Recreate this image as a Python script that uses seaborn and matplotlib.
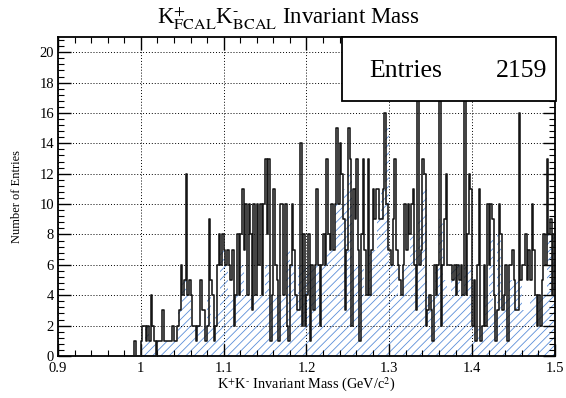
import matplotlib
matplotlib.use("Agg")
import matplotlib.pyplot as plt
from matplotlib.ticker import MultipleLocator, FuncFormatter
import numpy as np
import pandas as pd
import seaborn as sns

# K+K- invariant mass, fine binning (outline)
mass_lo = 0.99
mass_hi = 1.5
counts = [
    0, 1, 0, 0, 0,
    1, 2, 2, 1, 2,
    1, 4, 2, 1, 0,
    1, 1, 1, 3, 1,
    1, 1, 1, 1, 2,
    1, 1, 2, 3, 6,
    4, 5, 12, 4, 5,
    4, 2, 2, 1, 2,
    2, 5, 3, 3, 1,
    2, 9, 5, 4, 1,
    2, 6, 8, 6, 8,
    7, 6, 7, 6, 5,
    7, 2, 4, 8, 4,
    8, 11, 7, 10, 4,
    10, 8, 3, 10, 4,
    10, 6, 10, 4, 10,
    13, 8, 13, 1, 4,
    11, 6, 5, 1, 10,
    10, 4, 10, 2, 1,
    6, 10, 7, 4, 3,
    3, 14, 2, 8, 2,
    4, 8, 1, 6, 3,
    6, 11, 6, 2, 6,
    8, 6, 13, 8, 7,
    10, 7, 10, 15, 10,
    14, 12, 9, 3, 7,
    15, 13, 2, 11, 9,
    13, 7, 1, 8, 13,
    7, 4, 13, 4, 7,
    11, 9, 11, 11, 9,
    9, 11, 16, 10, 7,
    7, 6, 9, 13, 7,
    6, 5, 4, 6, 10,
    7, 10, 8, 10, 11,
    6, 3, 20, 6, 7,
    13, 12, 2, 3, 4,
    3, 1, 6, 4, 6,
    20, 2, 6, 9, 12,
    6, 6, 6, 5, 6,
    4, 6, 5, 6, 4,
    20, 4, 8, 12, 11,
    2, 5, 1, 6, 11,
    1, 2, 6, 2, 10,
    6, 10, 9, 4, 1,
    3, 10, 8, 3, 4,
    6, 1, 6, 6, 7,
    5, 3, 3, 16, 5,
    6, 6, 8, 5, 7,
    5, 10, 7, 4, 2,
    4, 2, 5, 8, 6,
    13, 8, 9, 4, 8,
]

# level of the hatched area, coarser binning
fill_counts = [
    0, 0,
    1, 2, 1, 1, 1, 1, 1, 1, 1, 3, 5, 4, 2, 2, 2, 2, 4, 2, 3, 7,
    6, 4, 4, 4, 6, 4, 4, 4, 4, 4, 6, 4, 4, 4, 4, 7, 6, 4, 6, 6,
    6, 6, 6, 6, 6, 7, 7, 10, 10, 11, 12, 6, 6, 6, 4, 7, 7, 9, 11, 15,
    6, 6, 4, 6, 6, 8, 7, 9, 11, 4, 4, 6, 9, 5, 4, 6, 6, 4, 6, 6,
    2, 2, 2, 4, 8, 3, 8, 4, 4, 5, 5, 5, 3, 3, 4, 4, 4, 4, 8, 8,
]
n_entries = 2159

edges = np.linspace(mass_lo, mass_hi, len(counts) + 1)
df = pd.DataFrame({"mass": 0.5 * (edges[:-1] + edges[1:]), "n": counts})
fill_edges = np.linspace(mass_lo, mass_hi, len(fill_counts) + 1)
df_fill = pd.DataFrame({"mass": 0.5 * (fill_edges[:-1] + fill_edges[1:]), "n": fill_counts})

plt.rcParams["font.family"] = ["Liberation Serif", "DejaVu Serif"]
plt.rcParams["mathtext.fontset"] = "stix"
plt.rcParams["hatch.color"] = "#5b8fd9"
plt.rcParams["hatch.linewidth"] = 0.6

fig = plt.figure(figsize=(5.66, 3.98), dpi=100)
ax = fig.add_axes([0.1025, 0.1055, 0.878, 0.8015])

sns.histplot(data=df_fill, x="mass", weights="n", bins=len(fill_counts),
             binrange=(mass_lo, mass_hi), element="step", fill=True, ax=ax,
             color="#5b8fd9", zorder=1)
poly = ax.collections[-1]
poly.set_facecolor("none")
poly.set_edgecolor("#5b8fd9")
poly.set_hatch("////")
poly.set_linewidth(0)
for ln in list(ax.lines):
    ln.remove()

sns.histplot(data=df, x="mass", weights="n", bins=len(counts),
             binrange=(mass_lo, mass_hi), element="step", fill=False,
             ax=ax, color="#151515", linewidth=1.15, zorder=3)

ax.set_xlim(0.9, 1.5)
ax.set_ylim(0, 21)
ax.xaxis.set_major_locator(MultipleLocator(0.1))
ax.xaxis.set_minor_locator(MultipleLocator(0.02))
ax.yaxis.set_major_locator(MultipleLocator(2))
ax.yaxis.set_minor_locator(MultipleLocator(0.4))
ax.xaxis.set_major_formatter(FuncFormatter(lambda v, p: f"{v:g}"))
ax.tick_params(which="both", direction="in", top=True, right=True, labelsize=10.5)
ax.tick_params(which="major", length=9, width=1)
ax.tick_params(which="minor", length=4.5, width=0.8)
ax.tick_params(axis="x", pad=4)
ax.tick_params(axis="y", pad=3)
ax.grid(True, which="major", linestyle=(0, (1, 2)), color="black", linewidth=0.7)
for s in ax.spines.values():
    s.set_linewidth(1.3)

ax.set_xlabel(r"K$^{+}$K$^{\text{-}}$ Invariant Mass (GeV/c$^{2}$)", fontsize=10.3, labelpad=1)
ax.set_ylabel("Number of Entries", fontsize=9, labelpad=12)
fig.text(0.51, 0.955, r"K$^{+}_{\rm FCAL}$K$^{\text{-}}_{\rm BCAL}$ Invariant Mass",
         ha="center", va="center", fontsize=16.5)

# stats box
box = plt.Rectangle((0.604, 0.746), 0.378, 0.161, transform=fig.transFigure,
                    facecolor="white", edgecolor="black", linewidth=1.3, zorder=10)
fig.patches.append(box)
fig.text(0.652, 0.822, "Entries", ha="left", va="center", fontsize=18.5, zorder=11)
fig.text(0.966, 0.822, f"{n_entries}", ha="right", va="center", fontsize=18.5, zorder=11)

fig.savefig("out.png", dpi=100)
